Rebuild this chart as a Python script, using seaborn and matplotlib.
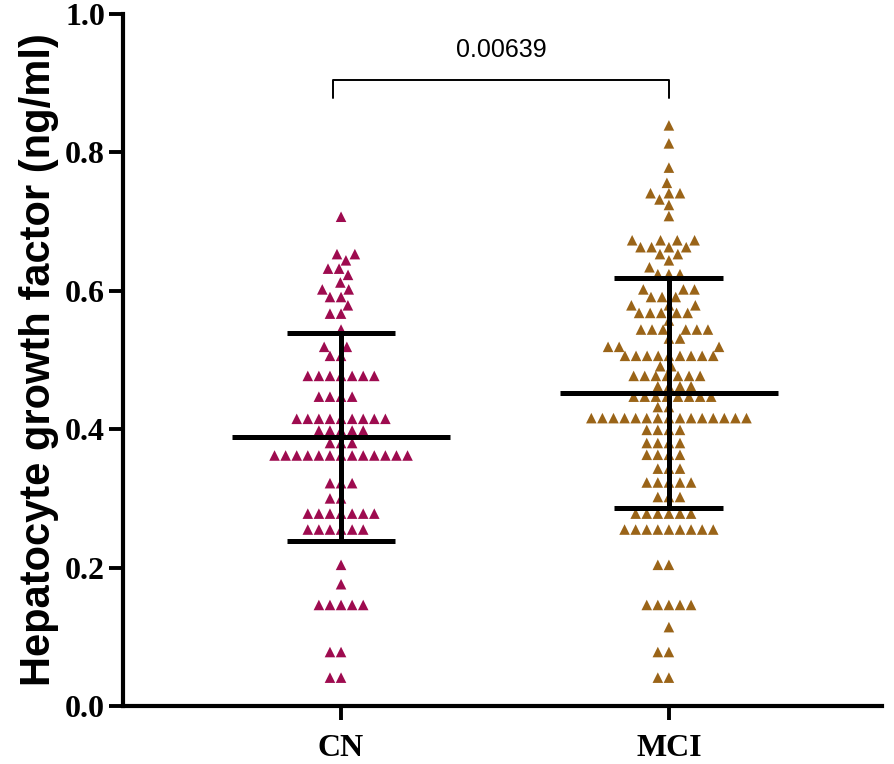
import numpy as np
import pandas as pd
import matplotlib
matplotlib.use("Agg")
import matplotlib.pyplot as plt
import seaborn as sns

# ---- data ----
groups = ["CN", "MCI"]

cn_levels = [0.707, 0.653, 0.644, 0.632, 0.623, 0.612, 0.602, 0.591, 0.579, 0.567,
             0.544, 0.519, 0.506, 0.477, 0.447, 0.415, 0.398, 0.380, 0.362, 0.322,
             0.300, 0.278, 0.255, 0.204, 0.176, 0.146, 0.078, 0.041]
cn_counts = [1, 2, 1, 2, 1, 1, 2, 2, 1, 2,
             1, 2, 2, 7, 4, 9, 5, 3, 13, 3,
             2, 7, 6, 1, 1, 5, 2, 2]

mci_levels = [0.839, 0.813, 0.778, 0.756, 0.741, 0.732, 0.724, 0.708, 0.673, 0.663,
              0.653, 0.644, 0.634, 0.624, 0.602, 0.591, 0.579, 0.568, 0.557, 0.544,
              0.531, 0.519, 0.506, 0.491, 0.477, 0.462, 0.447, 0.432, 0.416, 0.399,
              0.380, 0.363, 0.343, 0.323, 0.302, 0.278, 0.255, 0.204, 0.146, 0.114,
              0.078, 0.041]
mci_counts = [1, 1, 1, 1, 3, 1, 1, 1, 4, 4,
              2, 1, 1, 3, 3, 3, 3, 5, 1, 6,
              2, 3, 9, 2, 7, 4, 8, 2, 15, 4,
              4, 4, 3, 5, 3, 6, 9, 2, 5, 1,
              2, 2]

# summary lines (mean and mean +/- SD)
means = [0.389, 0.453]
sd_low = [0.239, 0.286]
sd_high = [0.539, 0.619]

p_label = "0.00639"
colors = ["#9E0B4F", "#9A6418"]

values = np.repeat(cn_levels, cn_counts).tolist() + np.repeat(mci_levels, mci_counts).tolist()
labels = ["CN"] * int(np.sum(cn_counts)) + ["MCI"] * int(np.sum(mci_counts))
df = pd.DataFrame({"group": labels, "value": values})

# ---- figure ----
sns.set_style("white")
plt.rcParams.update({"text.color": "black", "axes.labelcolor": "black",
                     "xtick.color": "black", "ytick.color": "black"})
fig = plt.figure(figsize=(8.94, 7.64), dpi=100)
ax = fig.add_axes([0.1376, 0.0759, 0.849, 0.9058])

sns.swarmplot(data=df, x="group", y="value", hue="group", order=groups,
              palette=colors, marker="^", size=7.6, linewidth=0,
              legend=False, ax=ax, zorder=2)

for i, g in enumerate(groups):
    ax.hlines(means[i], i - 0.332, i + 0.332, color="black", lw=3.6, zorder=5)
    ax.hlines([sd_low[i], sd_high[i]], i - 0.166, i + 0.166, color="black", lw=3.6, zorder=5)
    ax.vlines(i, sd_low[i], sd_high[i], color="black", lw=3.6, zorder=5)

# significance bracket
ax.plot([-0.024, -0.024, 1.0, 1.0], [0.879, 0.905, 0.905, 0.879],
        color="black", lw=1.4, clip_on=False)
ax.text(0.488, 0.948, p_label, ha="center", va="center", fontsize=18,
        family="Liberation Sans", color="black")

ax.set_xlim(-0.665, 1.65)
ax.set_ylim(0, 1.0)
ax.set_yticks([0.0, 0.2, 0.4, 0.6, 0.8, 1.0])
ax.set_yticklabels(["0.0", "0.2", "0.4", "0.6", "0.8", "1.0"])
ax.set_xlabel("")
ax.set_ylabel("Hepatocyte growth factor (ng/ml)", fontsize=30, fontweight="bold",
              family="Liberation Sans", labelpad=4, color="black")

for lab in ax.get_xticklabels() + ax.get_yticklabels():
    lab.set_family("Liberation Serif")
    lab.set_fontweight("bold")
    lab.set_fontsize(23)
    lab.set_color("black")

ax.tick_params(axis="both", direction="out", length=10, width=2.8, color="black",
               left=True, bottom=True)
ax.tick_params(axis="x", pad=10)
ax.tick_params(axis="y", pad=3)
for side in ["top", "right"]:
    ax.spines[side].set_visible(False)
for side in ["left", "bottom"]:
    ax.spines[side].set_linewidth(3)
    ax.spines[side].set_color("black")

fig.savefig("out.png", dpi=100)
